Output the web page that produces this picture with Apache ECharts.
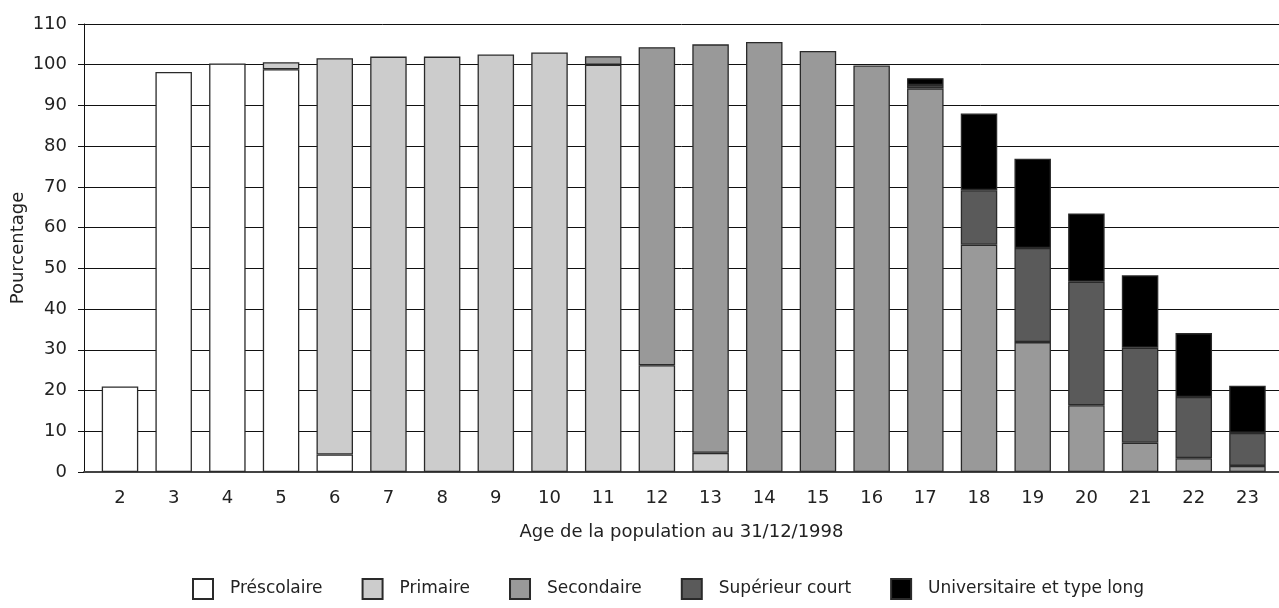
<!DOCTYPE html>
<html>
<head>
<meta charset="utf-8">
<script src="https://cdn.jsdelivr.net/npm/echarts@6/dist/echarts.min.js"></script>
<style>
html,body{margin:0;padding:0;background:#fff;}
#chart{width:1279px;height:608px;}
</style>
</head>
<body>
<div id="chart"></div>
<script>
const ages = ['2','3','4','5','6','7','8','9','10','11','12','13','14','15','16','17','18','19','20','21','22','23'];
const seriesNames = ['Préscolaire','Primaire','Secondaire','Supérieur court','Universitaire et type long'];
const prescolaire = [21.0,98.2,100.3,98.9,4.3,null,null,null,null,null,null,null,null,null,null,null,null,null,null,null,null,null];
const primaire    = [null,null,null,1.7,97.3,102.0,102.0,102.5,103.0,100.0,26.2,4.7,null,null,null,null,null,null,null,null,null,null];
const secondaire  = [null,null,null,null,null,null,null,null,null,2.1,78.1,100.3,105.6,103.4,99.8,94.2,55.8,31.9,16.4,7.2,3.4,1.5];
const supCourt    = [null,null,null,null,null,null,null,null,null,null,null,null,null,null,null,0.8,13.4,23.1,30.3,23.3,15.0,8.1];
const universitaire = [null,null,null,null,null,null,null,null,null,null,null,null,null,null,null,1.7,18.8,21.9,16.8,17.8,15.7,11.6];
const yTicks = [0,10,20,30,40,50,60,70,80,90,100,110];

const colors = ['#ffffff','#cccccc','#999999','#5a5a5a','#000000'];
const values = [prescolaire, primaire, secondaire, supCourt, universitaire];
const FONT = 'DejaVu Sans, Verdana, sans-serif';
const FS = 18;

const chart = echarts.init(document.getElementById('chart'), null, {renderer:'canvas'});
chart.setOption({
  animation: false,
  backgroundColor: '#fff',
  textStyle: {fontFamily: FONT, color: '#222'},
  grid: [
    {left: 84, right: 0, top: 24, bottom: 136, containLabel: false, outerBoundsMode: 'none'},
    {left: 93.15, right: 4.7, top: 24, bottom: 136, containLabel: false, outerBoundsMode: 'none'}
  ],
  legend: {
    left: 187, top: 573,
    itemWidth: 20, itemHeight: 20, itemGap: 39,
    icon: 'rect',
    textStyle: {fontFamily: FONT, fontSize: 17, color: '#222', padding: [0,0,0,12]},
    data: seriesNames
  },
  xAxis: [
    {
      gridIndex: 0, type: 'value', min: 0, max: 1,
      name: 'Age de la population au 31/12/1998',
      nameLocation: 'middle', nameGap: 51,
      nameTextStyle: {fontFamily: FONT, fontSize: FS, color: '#222'},
      axisLine: {show: true, lineStyle: {color: '#444', width: 2}},
      axisTick: {show: false},
      splitLine: {show: false},
      axisLabel: {show: false}
    },
    {
      gridIndex: 1, type: 'category', data: ages,
      axisLine: {show: false},
      axisTick: {show: false},
      splitLine: {show: false},
      axisLabel: {margin: 17, fontFamily: FONT, fontSize: FS, color: '#222'}
    }
  ],
  yAxis: [
    {
      gridIndex: 0, type: 'value',
      min: 0, max: 110, interval: 5,
      name: 'Pourcentage',
      nameLocation: 'middle', nameGap: 57, nameRotate: 90,
      nameMoveOverlap: false,
      nameTextStyle: {fontFamily: FONT, fontSize: FS, color: '#222'},
      axisLine: {show: true, lineStyle: {color: '#111', width: 1}},
      axisTick: {show: true, inside: false, length: 6, customValues: yTicks, lineStyle: {color: '#111'}},
      axisLabel: {margin: 17, fontFamily: FONT, fontSize: FS, color: '#222',
        formatter: v => (v % 10 === 0 ? String(v) : '')},
      splitLine: {show: true, lineStyle: {color: '#111', width: 1}}
    },
    {
      gridIndex: 1, type: 'value', min: 0, max: 110, show: false,
      splitLine: {show: false}
    }
  ],
  series: values.map((vals, k) => ({
    name: seriesNames[k],
    type: 'bar',
    xAxisIndex: 1, yAxisIndex: 1,
    stack: 'total',
    barWidth: 36.5,
    itemStyle: {color: colors[k], borderColor: '#2a2a2a', borderWidth: 1.3},
    data: vals
  }))
});
</script>
</body>
</html>
